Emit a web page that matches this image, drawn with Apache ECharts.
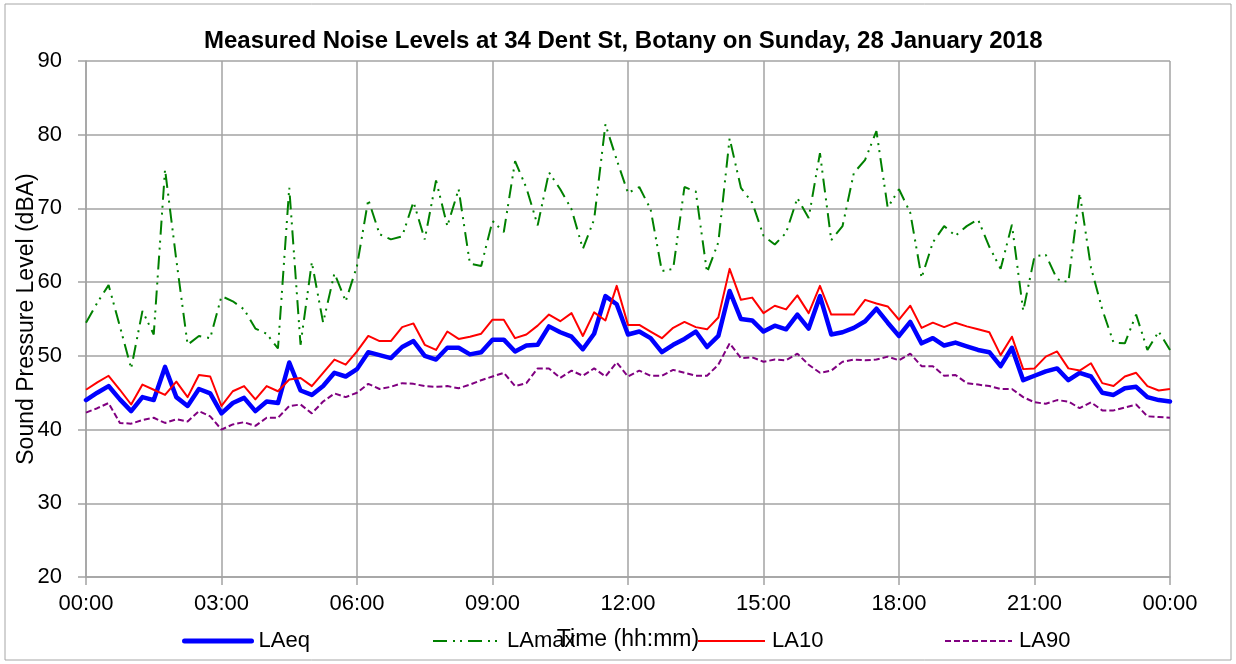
<!DOCTYPE html>
<html>
<head>
<meta charset="utf-8">
<script src="https://cdn.jsdelivr.net/npm/echarts@6/dist/echarts.min.js"></script>
<style>
html,body{margin:0;padding:0;background:#ffffff;}
#chart{width:1236px;height:664px;}
</style>
</head>
<body>
<div id="chart"></div>
<script>
// ---- data ----
const chartTitle = 'Measured Noise Levels at 34 Dent St, Botany on Sunday, 28 January 2018';
const xAxisName = 'Time (hh:mm)';
const yAxisName = 'Sound Pressure Level (dBA)';
const seriesNames = ['LAeq', 'LAmax', 'LA10', 'LA90'];
// 15-minute time categories from 00:00 to 24:00 (shown as 00:00)
const timeCategories = [];
for (let i = 0; i <= 96; i++) {
  const m = (i * 15) % 1440;
  timeCategories.push(String(Math.floor(m / 60)).padStart(2, '0') + ':' + String(m % 60).padStart(2, '0'));
}
const yTicks = [20, 30, 40, 50, 60, 70, 80, 90];

const LAeq = [
  44.0, 45.0, 45.9, 44.1, 42.5, 44.4, 44.0, 48.5, 44.4, 43.2, 45.5, 44.9,
  42.2, 43.6, 44.3, 42.5, 43.8, 43.6, 49.1, 45.3, 44.7, 45.9, 47.7, 47.2,
  48.2, 50.5, 50.1, 49.7, 51.2, 52.0, 50.0, 49.5, 51.1, 51.1, 50.2, 50.5,
  52.2, 52.2, 50.6, 51.4, 51.5, 54.0, 53.2, 52.6, 50.9, 53.0, 58.1, 57.0,
  52.9, 53.3, 52.4, 50.5, 51.5, 52.3, 53.3, 51.2, 52.7, 58.8, 55.0, 54.8,
  53.3, 54.1, 53.6, 55.6, 53.7, 58.1, 52.9, 53.2, 53.8, 54.7, 56.4, 54.5,
  52.7, 54.6, 51.7, 52.4, 51.4, 51.8, 51.3, 50.8, 50.5, 48.6, 51.1, 46.7,
  47.3, 47.9, 48.3, 46.7, 47.7, 47.2, 45.0, 44.7, 45.6, 45.8, 44.4, 44.0,
  43.8
];
const LAmax = [
  54.5, 57.2, 59.6, 54.0, 48.3, 56.1, 52.9, 75.3, 63.0, 51.5, 52.7, 52.4,
  58.1, 57.4, 56.3, 53.7, 53.0, 51.0, 72.8, 51.5, 62.7, 54.5, 61.2, 57.4,
  62.2, 71.2, 66.5, 65.8, 66.2, 70.9, 65.8, 73.8, 67.6, 72.6, 62.5, 62.2,
  68.3, 66.8, 76.4, 72.8, 67.7, 74.9, 72.6, 69.9, 64.5, 68.5, 81.4, 76.6,
  72.1, 72.9, 69.9, 61.5, 61.8, 72.9, 72.3, 61.3, 65.4, 79.5, 72.8, 70.8,
  66.3, 65.1, 66.7, 71.4, 68.7, 77.5, 65.7, 67.6, 74.8, 76.6, 80.5, 70.1,
  72.6, 69.4, 60.6, 65.4, 67.6, 66.3, 67.6, 68.5, 64.8, 61.8, 67.8, 56.1,
  63.5, 63.7, 60.4, 60.0, 72.1, 62.0, 56.3, 51.8, 51.7, 55.6, 50.8, 53.3,
  50.8
];
const LA10 = [
  45.4, 46.4, 47.3, 45.4, 43.4, 46.1, 45.4, 44.7, 46.5, 44.4, 47.4, 47.2,
  43.2, 45.2, 45.9, 44.1, 45.9, 45.2, 46.8, 47.0, 45.9, 47.7, 49.5, 48.8,
  50.6, 52.7, 52.0, 52.0, 53.9, 54.4, 51.5, 50.8, 53.3, 52.3, 52.6, 53.0,
  54.9, 54.9, 52.4, 52.9, 54.1, 55.6, 54.7, 55.8, 52.7, 55.9, 54.8, 59.5,
  54.2, 54.2, 53.3, 52.4, 53.8, 54.6, 53.9, 53.6, 55.2, 61.8, 57.6, 57.9,
  55.8, 56.8, 56.3, 58.2, 55.8, 59.5, 55.6, 55.6, 55.6, 57.6, 57.1, 56.7,
  54.9, 56.8, 53.8, 54.5, 53.9, 54.5, 54.0, 53.6, 53.2, 50.1, 52.6, 48.2,
  48.3, 49.9, 50.6, 48.3, 48.0, 49.0, 46.3, 45.9, 47.2, 47.7, 45.9, 45.3,
  45.5
];
const LA90 = [
  42.3, 42.9, 43.6, 40.9, 40.8, 41.3, 41.6, 40.9, 41.4, 41.1, 42.5, 41.8,
  40.0, 40.7, 41.0, 40.5, 41.6, 41.6, 43.2, 43.4, 42.2, 43.8, 44.9, 44.4,
  45.0, 46.2, 45.5, 45.8, 46.3, 46.2, 45.9, 45.8, 45.9, 45.6, 46.1, 46.7,
  47.2, 47.7, 45.9, 46.3, 48.3, 48.3, 47.0, 48.0, 47.3, 48.3, 47.2, 49.1,
  47.2, 48.0, 47.3, 47.3, 48.1, 47.7, 47.3, 47.3, 48.8, 51.7, 49.7, 49.8,
  49.2, 49.5, 49.4, 50.3, 48.8, 47.7, 48.0, 49.2, 49.5, 49.4, 49.5, 49.9,
  49.4, 50.3, 48.6, 48.6, 47.3, 47.4, 46.3, 46.1, 45.9, 45.5, 45.5, 44.4,
  43.7, 43.5, 44.0, 43.8, 42.9, 43.7, 42.6, 42.6, 43.0, 43.4, 41.8, 41.7,
  41.6
];

// ---- chart ----
const FONT = '"Liberation Sans", Arial, sans-serif';
const GRID_COLOR = '#a3a3a3';
const chart = echarts.init(document.getElementById('chart'), null, { renderer: 'canvas' });

function legendAt(name, left, lineWidth) {
  return {
    data: [name],
    left: left,
    top: 630,
    padding: 0,
    orient: 'horizontal',
    itemWidth: 67,
    itemHeight: 14,
    itemGap: 0,
    selectedMode: false,
    itemStyle: { opacity: 0, color: 'rgba(0,0,0,0)', borderWidth: 0 },
    lineStyle: { width: lineWidth },
    textStyle: { fontFamily: FONT, fontSize: 22, color: '#000000', padding: [0, 0, 0, 2] }
  };
}

const option = {
  animation: false,
  backgroundColor: '#ffffff',
  title: {
    text: chartTitle,
    left: 204,
    top: 29,
    padding: 0,
    textStyle: { fontFamily: FONT, fontSize: 24, fontWeight: 'bold', color: '#000000' }
  },
  graphic: [{
    type: 'rect',
    shape: { x: 5, y: 4, width: 1226, height: 656 },
    style: { fill: 'none', stroke: '#a6a6a6', lineWidth: 1 },
    silent: true,
    z: -1
  }],
  legend: [
    legendAt(seriesNames[0], 182, 5),
    legendAt(seriesNames[1], 432, 2),
    legendAt(seriesNames[2], 697, 2),
    legendAt(seriesNames[3], 944, 2)
  ],
  grid: { left: 86, right: 66, top: 61, bottom: 87, containLabel: false, outerBoundsMode: 'none' },
  xAxis: {
    type: 'category',
    data: timeCategories,
    boundaryGap: false,
    name: xAxisName,
    nameLocation: 'middle',
    nameGap: 51,
    nameMoveOverlap: false,
    nameTextStyle: { fontFamily: FONT, fontSize: 23, color: '#000000' },
    axisLine: { show: true, lineStyle: { color: GRID_COLOR, width: 1.5 } },
    axisTick: { show: true, interval: 11, length: 8, inside: false, lineStyle: { color: GRID_COLOR, width: 1.5 } },
    axisLabel: { interval: 11, fontFamily: FONT, fontSize: 22, color: '#000000', margin: 16 },
    splitLine: { show: true, interval: 11, lineStyle: { color: GRID_COLOR, width: 1.5 } }
  },
  yAxis: {
    type: 'value',
    min: yTicks[0],
    max: yTicks[yTicks.length - 1],
    interval: 10,
    name: yAxisName,
    nameLocation: 'middle',
    nameGap: 48,
    nameRotate: 90,
    nameMoveOverlap: false,
    nameTextStyle: { fontFamily: FONT, fontSize: 23, color: '#000000' },
    axisLine: { show: true, lineStyle: { color: GRID_COLOR, width: 1.5 } },
    axisTick: { show: true, length: 8, inside: false, lineStyle: { color: GRID_COLOR, width: 1.5 } },
    axisLabel: { fontFamily: FONT, fontSize: 22, color: '#000000', margin: 24 },
    splitLine: { show: true, lineStyle: { color: GRID_COLOR, width: 1.5 } }
  },
  series: [
    {
      name: seriesNames[0], type: 'line', data: LAeq, symbol: 'none', showSymbol: false,
      lineStyle: { color: '#0000ff', width: 4.5, cap: 'round', join: 'round' },
      itemStyle: { color: '#0000ff' }
    },
    {
      name: seriesNames[1], type: 'line', data: LAmax, symbol: 'none', showSymbol: false,
      lineStyle: { color: '#008000', width: 2, type: [14, 6, 2, 5, 2, 6] },
      itemStyle: { color: '#008000' }
    },
    {
      name: seriesNames[2], type: 'line', data: LA10, symbol: 'none', showSymbol: false,
      lineStyle: { color: '#ff0000', width: 2, join: 'round' },
      itemStyle: { color: '#ff0000' }
    },
    {
      name: seriesNames[3], type: 'line', data: LA90, symbol: 'none', showSymbol: false,
      lineStyle: { color: '#800080', width: 2, type: [6, 3] },
      itemStyle: { color: '#800080' }
    }
  ]
};
chart.setOption(option);
</script>
</body>
</html>
